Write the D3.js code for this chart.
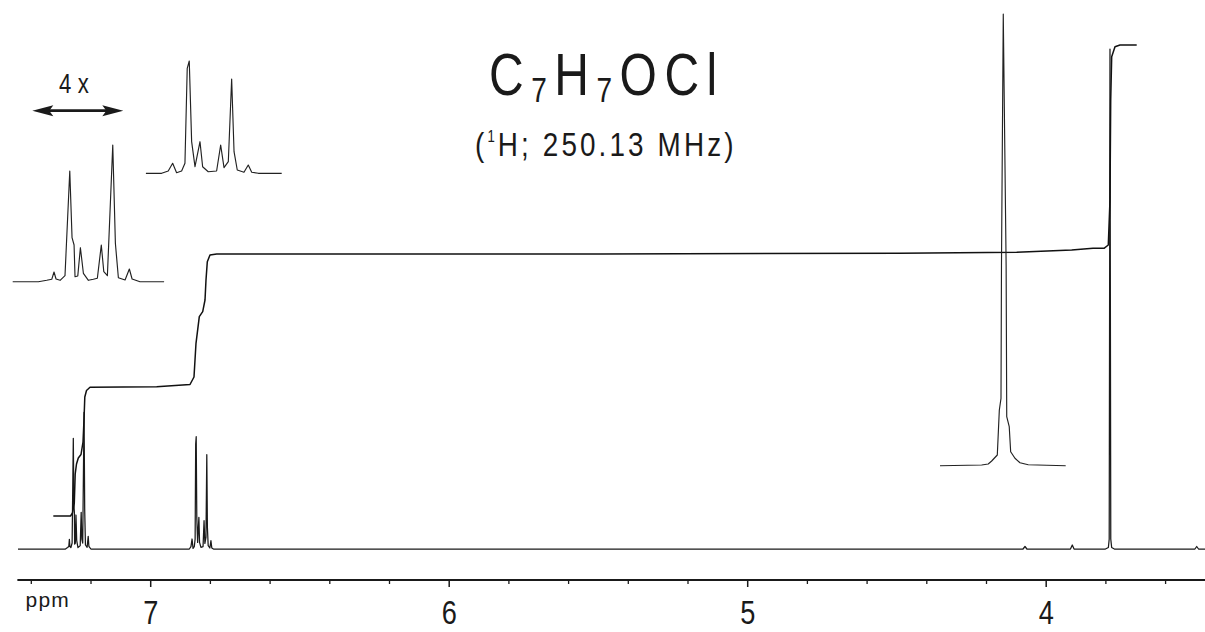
<!DOCTYPE html>
<html>
<head>
<meta charset="utf-8">
<script src="https://cdn.jsdelivr.net/npm/d3@7"></script>
<style>
  body { margin: 0; background: #fff; }
  svg { display: block; }
</style>
</head>
<body>
<div id="chart"></div>
<script>
// traced spectrum, [ppm, intensity]
const multipletA = [
  [7.3054, 0], [7.2839, 0], [7.2769, 1.4], [7.2727, 2.4], [7.2708, 9.7], [7.2691, 2.7],
  [7.2657, 1.4], [7.2616, 6], [7.2576, 110.7], [7.2557, 44], [7.2540, 36.7], [7.2532, 5],
  [7.2509, 5.7], [7.2487, 34], [7.2462, 8.4], [7.2420, 1.4], [7.2379, 2.4], [7.2345, 3.4],
  [7.2312, 36.7], [7.2291, 10], [7.2261, 6], [7.2216, 136.7], [7.2194, 38.4], [7.2169, 4],
  [7.2113, 1.7], [7.2077, 12.7], [7.2054, 2.7], [7.1988, 0], [7.1786, 0]
];
const multipletB = [
  [6.8822, 0], [6.8690, 0], [6.8635, 2.3], [6.8598, 10], [6.8565, 0.6], [6.8523, 2.3],
  [6.8495, 10], [6.8476, 105], [6.8459, 112.3], [6.8439, 31.6], [6.8411, 6.6], [6.8369, 31.6],
  [6.8347, 6.6], [6.8300, 1.6], [6.8230, 2.3], [6.8196, 28.3], [6.8168, 5.6], [6.8132, 11.6],
  [6.8104, 94.3], [6.8084, 21.6], [6.8057, 3.3], [6.8001, 1], [6.7965, 8.3], [6.7936, 1],
  [6.7881, 0], [6.7685, 0]
];
const methoxyPeak = [
  [3.8000, 0], [3.7900, 1.5], [3.7872, 10], [3.7856, 300], [3.7846, 500],
  [3.7836, 300], [3.7820, 10], [3.7790, 1.5], [3.7700, 0]
];
// methoxy singlet as shown in the expansion
const methoxyExpanded = [
  [3.8376, 0], [3.8027, 0.7], [3.7972, 1.7], [3.7943, 4.7], [3.7896, 10.7], [3.7879, 55.7],
  [3.7865, 67.4], [3.7861, 200], [3.7846, 451.7], [3.7822, 200], [3.7817, 49], [3.7796, 39],
  [3.7784, 14], [3.7748, 7.4], [3.7706, 3], [3.7637, 1], [3.7323, 0]
];
const smallPeaks = [
  [7.4429, 0], [4.0760, 0], [4.0693, 2.5], [4.0630, 0], [3.9170, 0], [3.9109, 4], [3.9050, 0],
  [3.5000, 0], [3.4941, 2.5], [3.4880, 0], [3.4663, 0]
];
const integralTrace = [
  [7.3246, 33], [7.2670, 33], [7.2603, 36], [7.2543, 46], [7.2513, 75], [7.2469, 85],
  [7.2409, 91], [7.2318, 94.5], [7.2251, 107], [7.2218, 129], [7.2191, 152], [7.2134, 158.5],
  [7.2017, 161.7], [6.9782, 162.3], [6.8667, 164.5], [6.8533, 172], [6.8466, 205.7],
  [6.8355, 232.3], [6.8241, 237.3], [6.8164, 249], [6.8131, 269], [6.8087, 287.3],
  [6.7997, 294], [6.7772, 295], [6.7327, 295], [5.4931, 295], [4.4881, 295.7], [4.0972, 296.7],
  [3.9129, 299], [3.8415, 300.7], [3.8047, 300.7], [3.7903, 304], [3.7846, 349], [3.7822, 449],
  [3.7789, 492.3], [3.7678, 502.3], [3.7511, 504], [3.6951, 504]
];
const majorTicks = [7, 6, 5, 4];
const minorTicks = [7.4, 7.2, 6.8, 6.6, 6.4, 6.2, 5.8, 5.6, 5.4, 5.2, 4.8, 4.6, 4.4, 4.2, 3.8, 3.6];

const W = 1205, H = 632;
const FONT = "'Liberation Sans', Arial, Helvetica, sans-serif";
const ink = "#1a1a1a";

const svg = d3.select("#chart").append("svg")
  .attr("width", W).attr("height", H)
  .style("font-family", FONT);

// ppm runs right to left
const x = d3.scaleLinear().domain([7.5032, 3.4663]).range([0, W]);
const y = d3.scaleLinear().domain([0, 500]).range([549, 49]);

const spectrum = [...smallPeaks, ...multipletA, ...multipletB, ...methoxyPeak]
  .sort((a, b) => b[0] - a[0]);

function trace(data, xs, ys, width, color) {
  svg.append("path")
    .datum(data)
    .attr("fill", "none")
    .attr("stroke", color)
    .attr("stroke-width", width)
    .attr("stroke-linejoin", "round")
    .attr("d", d3.line().x(d => xs(d[0])).y(d => ys(d[1])));
}

trace(spectrum, x, y, 1.25, ink);
trace(integralTrace, x, y, 1.5, "#111");

// expansions (4x horizontal)
const insets = [
  { data: multipletA, x0: 12.7, x1: 164.1, base: 281.7 },
  { data: multipletB, x0: 145.9, x1: 281.7, base: 173.3 },
  { data: methoxyExpanded, x0: 940, x1: 1065.7, base: 465.7 }
];
insets.forEach(s => {
  const xs = d3.scaleLinear().domain(d3.extent(s.data, d => d[0]).reverse()).range([s.x0, s.x1]);
  const ys = d3.scaleLinear().domain([0, 100]).range([s.base, s.base - 100]);
  trace(s.data, xs, ys, 1.15, "#222");
});

// axis
const axisY = 580;
svg.append("line")
  .attr("x1", x(7.445)).attr("x2", W)
  .attr("y1", axisY).attr("y2", axisY)
  .attr("stroke", ink).attr("stroke-width", 2);

svg.append("g")
  .attr("transform", `translate(0,${axisY})`)
  .call(d3.axisBottom(x).tickValues(minorTicks).tickSize(4).tickFormat(""))
  .call(g => g.select(".domain").remove())
  .call(g => g.selectAll(".tick line").attr("stroke", ink).attr("stroke-width", 1.3));

svg.append("g")
  .attr("transform", `translate(0,${axisY})`)
  .call(d3.axisBottom(x).tickValues(majorTicks).tickSize(7).tickFormat(d3.format("d")))
  .call(g => g.select(".domain").remove())
  .call(g => g.selectAll(".tick line").attr("stroke", ink).attr("stroke-width", 1.5))
  .call(g => g.selectAll(".tick text")
    .attr("y", 44).attr("dy", 0)
    .attr("transform", "scale(0.8,1)")
    .attr("fill", ink)
    .style("font-family", FONT)
    .style("font-size", "34px"));

svg.append("text")
  .attr("x", 25.5).attr("y", 607.3)
  .attr("fill", ink)
  .style("font-size", "21px")
  .style("letter-spacing", "1.2px")
  .text("ppm");

// title
const title = svg.append("text")
  .attr("transform", "translate(489,95) scale(0.8,1)")
  .attr("fill", ink)
  .style("font-size", "60px")
  .style("letter-spacing", "9.4px");
[["C", 0], ["7", 1], ["H", 0], ["7", 1], ["OCl", 0]].forEach(([t, sub], i, arr) => {
  const prevSub = i > 0 ? arr[i - 1][1] : 0;
  title.append("tspan")
    .attr("dy", sub ? 6.7 : (prevSub ? -6.7 : 0))
    .style("font-size", sub ? "35px" : "60px")
    .text(t);
});

const subtitle = svg.append("text")
  .attr("transform", "translate(475,155.5) scale(0.82,1)")
  .attr("fill", ink)
  .style("font-size", "34px")
  .style("letter-spacing", "3.8px");
subtitle.append("tspan").text("(");
subtitle.append("tspan").attr("dy", -14).style("font-size", "16px").text("1");
subtitle.append("tspan").attr("dy", 14).text("H; 250.13 MHz)");

// expansion label
svg.append("text")
  .attr("transform", "translate(59,92.5) scale(0.82,1)")
  .attr("fill", ink)
  .style("font-size", "27px")
  .style("letter-spacing", "8px")
  .text("4x");

const ay = 110.7, ax0 = 32.3, ax1 = 123.3;
svg.append("line")
  .attr("x1", ax0 + 10).attr("x2", ax1 - 10)
  .attr("y1", ay).attr("y2", ay)
  .attr("stroke", ink).attr("stroke-width", 2.8);
svg.append("path")
  .attr("fill", ink)
  .attr("d", `M${ax0},${ay} L${ax0 + 21},${ay - 5.5} L${ax0 + 17},${ay} L${ax0 + 21},${ay + 5.5} Z
              M${ax1},${ay} L${ax1 - 21},${ay - 5.5} L${ax1 - 17},${ay} L${ax1 - 21},${ay + 5.5} Z`);
</script>
</body>
</html>
